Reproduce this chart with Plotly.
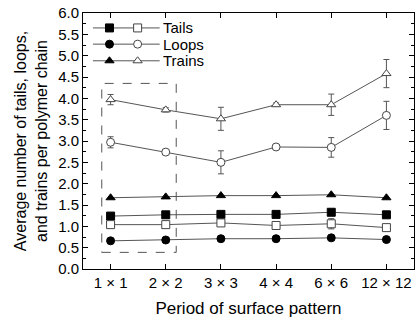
import plotly.graph_objects as go

categories = ["1 × 1", "2 × 2", "3 × 3", "4 × 4", "6 × 6", "12 × 12"]
tails_filled = [1.24, 1.27, 1.28, 1.28, 1.33, 1.27]
tails_open = [1.04, 1.04, 1.08, 1.02, 1.06, 0.97]
tails_open_err = [0.04, 0.04, 0.05, 0.04, 0.12, 0.05]
loops_filled = [0.66, 0.68, 0.71, 0.71, 0.73, 0.69]
loops_open = [2.97, 2.74, 2.50, 2.86, 2.85, 3.60]
loops_open_err = [0.13, 0.05, 0.27, 0.05, 0.23, 0.33]
trains_filled = [1.67, 1.69, 1.72, 1.72, 1.74, 1.67]
trains_open = [3.97, 3.73, 3.52, 3.85, 3.85, 4.58]
trains_open_err = [0.12, 0.05, 0.27, 0.04, 0.25, 0.33]

x = list(range(len(categories)))
LINE = "#555555"
fig = go.Figure()


def mk(symbol, filled):
    if filled:
        return dict(symbol=symbol, size=8, color="black", line=dict(color="black", width=1))
    return dict(symbol=symbol, size=8, color="white", line=dict(color="#444444", width=1))


def add(y, symbol, filled, err=None):
    kw = {}
    if err is not None:
        kw["error_y"] = dict(type="data", array=err, visible=True, color="#555555",
                             thickness=1, width=3)
    fig.add_trace(go.Scatter(
        x=x, y=y, mode="lines+markers",
        line=dict(color=LINE, width=1),
        marker=mk(symbol, filled), showlegend=False, **kw))


add(trains_open, "triangle-up", False, trains_open_err)
add(loops_open, "circle", False, loops_open_err)
add(trains_filled, "triangle-up", True)
add(tails_filled, "square", True)
add(tails_open, "square", False, tails_open_err)
add(loops_filled, "circle", True)

# custom legend
leg = [("Tails", "square", 5.65), ("Loops", "circle", 5.27), ("Trains", "triangle-up", 4.88)]
for name, sym, yy in leg:
    fig.add_trace(go.Scatter(x=[-0.32, 0.89], y=[yy, yy], mode="lines",
                             line=dict(color=LINE, width=1), showlegend=False, hoverinfo="skip"))
    fig.add_trace(go.Scatter(x=[-0.02], y=[yy], mode="markers",
                             marker=mk(sym, True), showlegend=False))
    fig.add_trace(go.Scatter(x=[0.49], y=[yy], mode="markers",
                             marker=mk(sym, False), showlegend=False))
    fig.add_annotation(x=0.92, y=yy, text=name, showarrow=False, xanchor="left",
                       font=dict(size=15, color="black"))

fig.add_shape(type="rect", x0=-0.16, x1=1.19, y0=0.39, y1=4.35,
              line=dict(color="#555555", width=1, dash="dash"))

fig.update_xaxes(range=[-0.5, 5.5], tickvals=x, ticktext=categories,
                 showline=True, linecolor="black", linewidth=1, mirror="ticks",
                 ticks="inside", ticklen=5, tickcolor="black", showgrid=False, zeroline=False,
                 tickfont=dict(size=15, color="black"),
                 title=dict(text="Period of surface pattern", font=dict(size=17, color="black"), standoff=12))
fig.update_yaxes(range=[0, 6], dtick=0.5, tickformat=".1f",
                 showline=True, linecolor="black", linewidth=1, mirror="ticks",
                 ticks="inside", ticklen=5, tickcolor="black", showgrid=False, zeroline=False,
                 minor=dict(dtick=0.25, ticks="inside", ticklen=3, tickcolor="black"),
                 tickfont=dict(size=15, color="black"),
                 title=dict(text="Average number of tails, loops,<br>and trains per polymer chain",
                            font=dict(size=16, color="black"), standoff=6))
fig.update_layout(width=419, height=319, margin=dict(l=83, r=4, t=11, b=46),
                  plot_bgcolor="white", paper_bgcolor="white",
                  font=dict(family="Liberation Sans, Arial, sans-serif"))
fig.write_html("out.html")
